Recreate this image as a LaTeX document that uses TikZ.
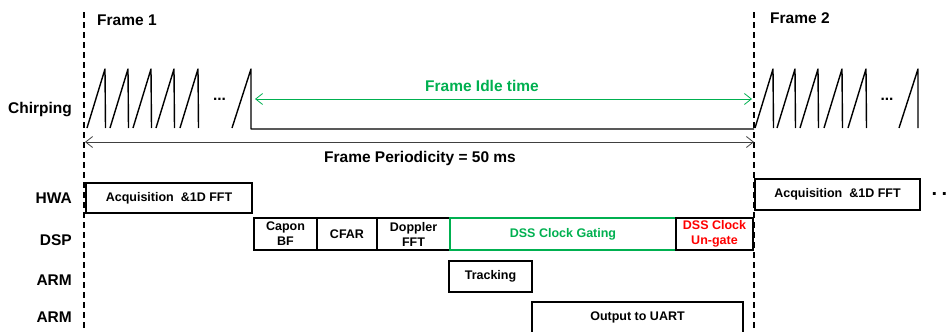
\documentclass[tikz,border=0pt]{standalone}
\usepackage{fontspec}
\setmainfont{Liberation Sans}
\usetikzlibrary{arrows.meta}
\definecolor{ggreen}{RGB}{0,176,80}
\definecolor{dgray}{RGB}{64,64,64}
\begin{document}
\begin{tikzpicture}[x=1pt,y=-1pt,
  lbl/.style={font=\fontsize{15.5}{18}\selectfont\bfseries, inner sep=0pt},
  box/.style={draw, line width=1.3pt, font=\fontsize{12.5}{15}\selectfont\bfseries, align=center, inner sep=0pt},
  chirp/.style={line width=1.4pt, line join=round},
  fline/.style={line width=1.4pt, dash pattern=on 6pt off 4pt},
  tips/.style={{Straight Barb[length=7pt,width=11pt]}-{Straight Barb[length=7pt,width=11pt]}, line width=0.8pt}]
\clip (0,0) rectangle (948,332);
% frame boundaries
\coordinate (f1t) at (84,12); \coordinate (f1b) at (84,333);
\coordinate (f2t) at (754,12); \coordinate (f2b) at (754,333);
\draw[fline] (f1t) -- (f1b);
\draw[fline] (f2t) -- (f2b);
\node[lbl, anchor=west] (fr1) at (97,20) {Frame 1};
\node[lbl, anchor=west] (fr2) at (770,18) {Frame 2};
% row labels
\node[lbl, anchor=east] (lchirp) at (72,110) {Chirping};
\node[lbl, anchor=east] (lhwa) at (72,198) {HWA};
\node[lbl, anchor=east] (ldsp) at (72,240) {DSP};
\node[lbl, anchor=east] (larm1) at (72,280) {ARM};
\node[lbl, anchor=east] (larm2) at (72,317) {ARM};
% chirps frame 1
\foreach \s in {87,110,133,156,180}{
  \draw[chirp] (\s,128) -- ({\s+18},69) -- ({\s+18.5},128);
}
\node[lbl, anchor=base] (dots1) at (219.5,100.5) {...};
\draw[chirp] (232,128) -- (251,69) -- (251,129) -- (754,129);
% chirps frame 2
\foreach \s in {755,777,800,824,848}{
  \draw[chirp] (\s,128) -- ({\s+18},69) -- ({\s+18.5},128);
}
\node[lbl, anchor=base] (dots2) at (887,100) {...};
\draw[chirp] (899,128) -- (918,69) -- (918,128);
% idle arrow
\coordinate (i1) at (255,99); \coordinate (i2) at (752,99);
\draw[tips, ggreen] (i1) -- (i2);
\node[lbl, text=ggreen] (idle) at (482,86) {Frame Idle time};
% periodicity arrow
\coordinate (p1) at (85,142); \coordinate (p2) at (754,142);
\draw[tips, dgray] (p1) -- (p2);
\node[lbl] (period) at (420,158) {Frame Periodicity = 50 ms};
% HWA
\node[box, minimum width=166pt, minimum height=30pt] (acq1) at (169,198) {Acquisition\ \ \&1D FFT};
\node[box, minimum width=165pt, minimum height=31pt] (acq2) at (837.5,194.5) {Acquisition\ \ \&1D FFT};
\node[font=\fontsize{20}{22}\selectfont\bfseries, inner sep=0pt, anchor=base west] (dots3) at (931.5,195.5) {.\kern4.4pt.\kern4.4pt.};
% DSP
\node[box, minimum width=63pt, minimum height=32pt] (capon) at (285.5,234) {Capon\\BF};
\node[box, minimum width=60pt, minimum height=32pt] (cfar) at (347,234) {CFAR};
\node[box, minimum width=73pt, minimum height=32pt] (doppler) at (413.5,234) {Doppler\\FFT};
\node[box, draw=ggreen, text=ggreen, minimum width=226pt, minimum height=32pt] (dssg) at (563,234) {DSS Clock Gating};
\node[box, text=red, minimum width=77pt, minimum height=32pt] (dssu) at (714.5,234) {DSS Clock\\Un-gate};
% ARM
\node[box, minimum width=83pt, minimum height=31pt] (track) at (490.5,276.5) {Tracking};
\node[box, minimum width=211pt, minimum height=31pt] (uart) at (637.5,317.5) {Output to UART};
\end{tikzpicture}
\end{document}
